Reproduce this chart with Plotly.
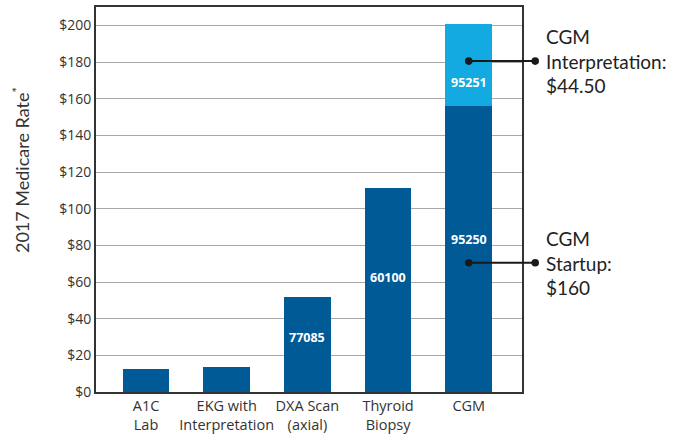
import plotly.graph_objects as go

categories = ["A1C<br>Lab", "EKG with<br>Interpretation", "DXA Scan<br>(axial)", "Thyroid<br>Biopsy", "CGM"]
base_values = [12.4, 13.5, 51.6, 111.3, 156.0]
interp_values = [0, 0, 0, 0, 44.5]
base_codes = ["", "", "77085", "60100", "95250"]
interp_codes = ["", "", "", "", "95251"]
code_label_y = [None, None, 30, 62.5, 83]
interp_label_y = 169
tick_vals = [0, 20, 40, 60, 80, 100, 120, 140, 160, 180, 200]
tick_text = ["$" + str(v) for v in tick_vals]
callout_texts = ["CGM<br>Interpretation:<br>$44.50", "CGM<br>Startup:<br>$160"]
callout_y = [180.5, 70.5]

dark = "#005A96"
light = "#13A9E1"
font_family = "Lato, 'Open Sans', sans-serif"
tick_family = "'Open Sans', sans-serif"
xr = [-0.62, 4.66]

fig = go.Figure()
fig.add_trace(go.Bar(x=categories, y=base_values, marker=dict(color=dark, line=dict(width=0)),
                     width=0.58, hoverinfo="skip"))
fig.add_trace(go.Bar(x=categories, y=interp_values, marker=dict(color=light, line=dict(width=0)),
                     width=0.58, hoverinfo="skip"))

annotations = []
code_font = dict(color="white", size=12.5, family="'Open Sans', sans-serif")
for cat, code, yv in zip(categories, base_codes, code_label_y):
    if code:
        annotations.append(dict(x=cat, y=yv, xref="x", yref="y", text="<b>" + code + "</b>",
                                showarrow=False, font=code_font))
annotations.append(dict(x=categories[4], y=interp_label_y, xref="x", yref="y",
                        text="<b>" + interp_codes[4] + "</b>", showarrow=False, font=code_font))

# callout connectors: from CGM bar centre to beyond the right border
cgm_paper = (4 - xr[0]) / (xr[1] - xr[0])
end_paper = 1.031
shapes = []
for yv, txt in zip(callout_y, callout_texts):
    shapes.append(dict(type="line", xref="paper", yref="y", x0=cgm_paper, x1=end_paper, y0=yv, y1=yv,
                       line=dict(color="#1a1a1a", width=2)))
    for xp in (cgm_paper, end_paper):
        shapes.append(dict(type="circle", xref="paper", yref="y", xsizemode="pixel", ysizemode="pixel",
                           xanchor=xp, yanchor=yv, x0=-3.8, x1=3.8, y0=-3.8, y1=3.8,
                           fillcolor="#1a1a1a", line=dict(width=0)))
    annotations.append(dict(x=1.052, y=yv, xref="paper", yref="y", xanchor="left", yanchor="middle",
                            text=txt, showarrow=False, align="left",
                            font=dict(size=19, color="#222", family=font_family)))

# y axis title
annotations.append(dict(x=-0.174, y=121, xref="paper", yref="y", textangle=-90, showarrow=False,
                        text="2017 Medicare Rate<sup>*</sup>", xanchor="center", yanchor="middle",
                        font=dict(size=18, color="#333", family=font_family)))

fig.update_layout(
    barmode="stack",
    width=688, height=434,
    margin=dict(l=96, r=166, t=7, b=42),
    paper_bgcolor="white", plot_bgcolor="white",
    showlegend=False,
    annotations=annotations,
    shapes=shapes,
    font=dict(family=font_family, color="#333"),
    xaxis=dict(range=xr, showline=True, linecolor="#333", linewidth=2, mirror=True, automargin=False,
               ticks="", tickangle=0, tickfont=dict(size=14.5, color="#333", family=tick_family),
               showgrid=False),
    yaxis=dict(range=[0, 210], tickvals=tick_vals, ticktext=tick_text, showline=True, linecolor="#333",
               linewidth=2, mirror=True, showgrid=True, gridcolor="#a8a8a8", gridwidth=1, automargin=False,
               ticks="", tickfont=dict(size=14, color="#333", family=tick_family), zeroline=False),
)

fig.write_html("out.html")
